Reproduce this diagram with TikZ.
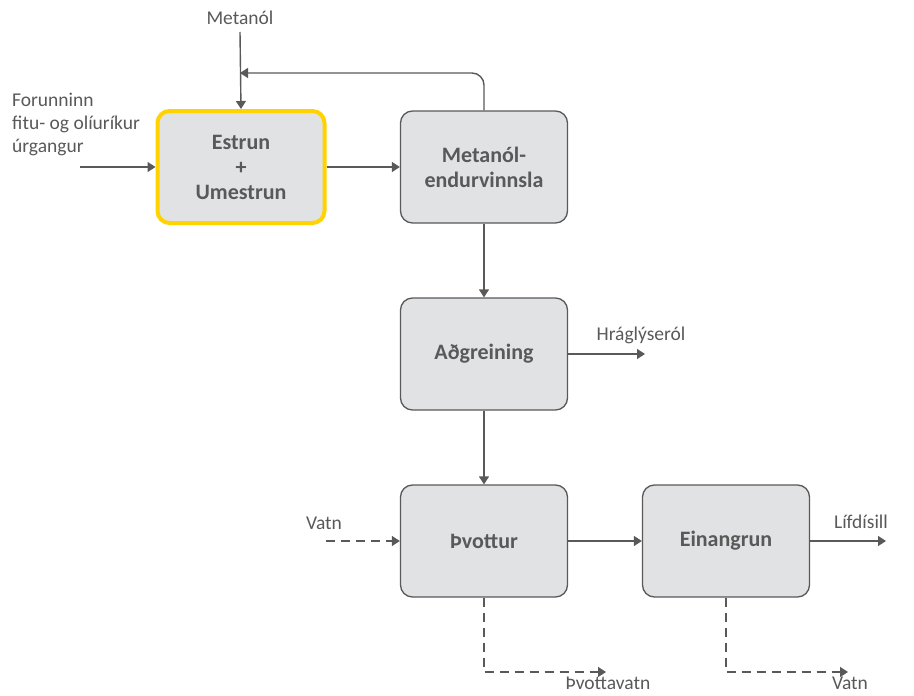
\documentclass[tikz,border=0pt]{standalone}
\usepackage{fontspec}
\setmainfont{Carlito}
\usetikzlibrary{arrows.meta}
\definecolor{ink}{HTML}{595959}
\definecolor{boxfill}{HTML}{E1E2E4}
\definecolor{hilite}{HTML}{FFD200}
\tikzset{
  proc/.style={draw=ink, fill=boxfill, line width=1.3pt, rounded corners=12pt,
    minimum width=167pt, minimum height=112pt, align=center,
    font=\fontsize{22}{25}\selectfont\bfseries, text=ink},
  flow/.style={draw=ink, line width=1.4pt, -{Triangle[length=8pt,width=10pt]}},
  wflow/.style={flow, dash pattern=on 9pt off 6pt},
  lbl/.style={font=\fontsize{19.5}{23}\selectfont, text=ink, inner sep=0pt}
}
\begin{document}
\begin{tikzpicture}[x=1pt,y=-1pt]
\useasboundingbox (0,0) rectangle (914,696);

% process steps
\node[proc, draw=hilite, line width=4pt] (est) at (241,167) {Estrun\\+\\Umestrun};
\node[proc] (mer) at (484,167) {Metanól-\\endurvinnsla};
\node[proc] (adg) at (484,354) {Aðgreining};
\node[proc] (pvo) at (484,541) {Þvottur};
\node[proc] (ein) at (726,541) {Einangrun};

% input/output labels
\node[lbl] (met) at (240,18) {Metanól};
\node[lbl, align=left, anchor=west] (for) at (12,124) {Forunninn\\fitu- og olíuríkur\\úrgangur};
\node[lbl] (hra) at (641,335) {Hráglýseról};
\node[lbl] (vin) at (324,523) {Vatn};
\node[lbl] (lif) at (861,522) {Lífdísill};
\node[lbl, anchor=base] (pva) at (608,689) {Þvottavatn};
\node[lbl, anchor=base] (vout) at (850,689) {Vatn};

% free ends of connectors
\coordinate (metS) at (240,32);
\coordinate (forS) at (80,167);
\coordinate (hraE) at (645,354);
\coordinate (vinS) at (326,541);
\coordinate (lifE) at (886,541);
\coordinate (pvaE) at (606,672);
\coordinate (voutE) at (848,672);

% solid flows
\draw[flow] (metS) -- (est.north);
\draw[flow, rounded corners=12pt] (mer.north) -- (484,73) -- (240,73);
\draw[flow] (forS) -- (est.west);
\draw[flow] (est.east) -- (mer.west);
\draw[flow] (mer.south) -- (adg.north);
\draw[flow] (adg.east) -- (hraE);
\draw[flow] (adg.south) -- (pvo.north);
\draw[flow] (pvo.east) -- (ein.west);
\draw[flow] (ein.east) -- (lifE);

% water streams
\draw[wflow] (vinS) -- (pvo.west);
\draw[wflow] (pvo.south) |- (pvaE);
\draw[wflow] (ein.south) |- (voutE);
\end{tikzpicture}
\end{document}
